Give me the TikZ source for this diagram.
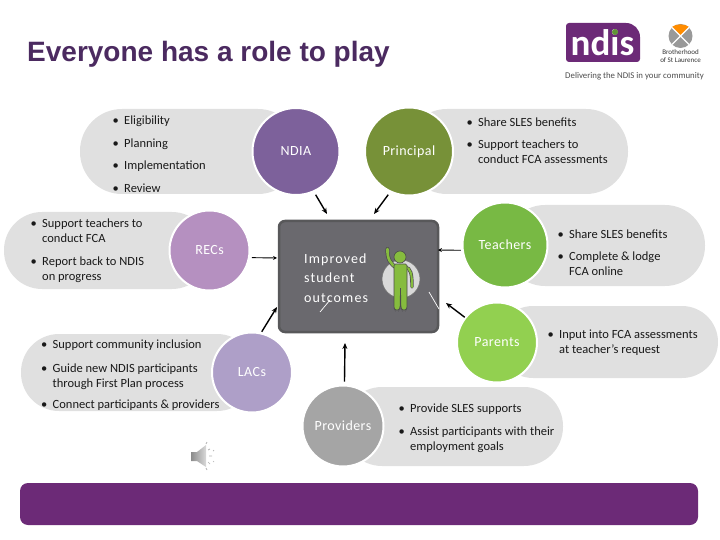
\documentclass[tikz,border=0pt]{standalone}
\usepackage{fontspec}
\setmainfont{Carlito}
\newfontfamily\ttlfont{Liberation Sans}
\newfontfamily\spacedfont[LetterSpace=8]{Carlito}
\newfontfamily\rolefont[LetterSpace=3]{Carlito}
\usetikzlibrary{arrows.meta}
\definecolor{pillgrey}{HTML}{E0E0E0}
\definecolor{cNDIA}{HTML}{7D619B}
\definecolor{cPrin}{HTML}{779138}
\definecolor{cTeach}{HTML}{78B944}
\definecolor{cPar}{HTML}{92D050}
\definecolor{cProv}{HTML}{A5A5A5}
\definecolor{cLAC}{HTML}{AE9FC8}
\definecolor{cREC}{HTML}{B590C0}
\definecolor{boxfill}{HTML}{6A696E}
\definecolor{boxline}{HTML}{58585A}
\definecolor{ndispurple}{HTML}{6C2A77}
\definecolor{titlecol}{HTML}{4B2A60}
\definecolor{fig}{HTML}{86BC3E}
\newcommand{\itemtxt}[1]{\begin{tabular}[t]{@{}p{11.5pt}@{}l@{}}•&#1\end{tabular}}
\tikzset{
  pill/.style={fill=pillgrey,draw=none},
  role/.style={circle,draw=white,line width=2pt,text=white,inner sep=0pt,font=\rolefont\fontsize{14}{16}\selectfont},
  itm/.style={anchor=base west,inner sep=0pt,font=\fontsize{12.5}{15}\selectfont,text=black!90},
  conn/.style={line width=1.4pt,-{Stealth[length=6pt,width=5pt]}},
  thinconn/.style={line width=.9pt,-{Stealth[length=4pt,width=4pt]}},
  stray/.style={draw=white,line width=.7pt},
}
\begin{document}
\begin{tikzpicture}[x=1pt,y=-1pt]
\useasboundingbox (0,0) rectangle (720,540);
% title
\node[anchor=base west,inner sep=0pt,text=titlecol,font=\ttlfont\bfseries\fontsize{28}{32}\selectfont] (title) at (27,62) {Everyone has a role to play};
% logos
\fill[ndispurple,rounded corners=3pt] (566,62) -- (566,23) [rounded corners=14pt] -- (640,23) [rounded corners=3pt] -- (640,62) -- cycle;
\node[text=white,inner sep=0pt,font=\bfseries\fontsize{37}{37}\selectfont] (ndislogo) at (602.5,42.5) {ndis};
\fill[cTeach!80!black] (615,32) circle[radius=3];
\fill[black!40] (680.5,36) circle[radius=12];
\fill[orange!90!yellow] (680.5,36) -- (672,27) .. controls (676,23.5) and (685,23.5) .. (689,27) -- cycle;
\draw[white,line width=1.2pt] (672,27.5) -- (689,44.5) (689,27.5) -- (672,44.5);
\node[align=center,inner sep=0pt,text=black!80,font=\fontsize{7}{7.5}\selectfont] (bsl) at (680.5,56) {Brotherhood\\of St Laurence};
\node[anchor=base west,inner sep=0pt,text=black!70,font=\fontsize{8.8}{10}\selectfont] (tagline) at (565,78.5) {Delivering the NDIS in your community};
% pills
\path[pill,rounded corners=42pt] (80,109) rectangle (300,194);
\path[pill,rounded corners=42pt] (405,109) rectangle (628,194);
\path[pill,rounded corners=40pt] (505,205) rectangle (705,286);
\path[pill,rounded corners=36pt] (497,306) rectangle (718,378);
\path[pill,rounded corners=39pt] (343,387) rectangle (563,466);
\path[pill,rounded corners=38pt] (21,334) rectangle (255,411);
\path[pill,rounded corners=38pt] (4,212) rectangle (210,289);
% role circles
\node[role,fill=cNDIA,minimum size=87pt] (ndia) at (296,151.5) {NDIA};
\node[role,fill=cPrin,minimum size=88pt] (principal) at (409,151.5) {Principal};
\node[role,fill=cTeach,minimum size=85pt] (teachers) at (505,245) {Teachers};
\node[role,fill=cPar,minimum size=80pt] (parents) at (497,342.5) {Parents};
\node[role,fill=cProv,minimum size=81pt] (providers) at (343,426) {Providers};
\node[role,fill=cLAC,minimum size=80pt] (lacs) at (252,372.5) {LACs};
\node[role,fill=cREC,minimum size=80pt] (recs) at (209.5,250.5) {RECs};
% lists
\node[itm] (n1) at (112.5,125) {\itemtxt{Eligibility}};
\node[itm] (n2) at (112.5,148) {\itemtxt{Planning}};
\node[itm] (n3) at (112.5,170) {\itemtxt{Implementation}};
\node[itm] (n4) at (112.5,192.5) {\itemtxt{Review}};
\node[itm] (p1) at (466.5,127) {\itemtxt{Share SLES benefits}};
\node[itm] (p2) at (466.5,149) {\itemtxt{Support teachers to\\&conduct FCA assessments}};
\node[itm] (t1) at (557.5,238) {\itemtxt{Share SLES benefits}};
\node[itm] (t2) at (557.5,260) {\itemtxt{Complete \& lodge\\&FCA online}};
\node[itm] (a1) at (547.5,338) {\itemtxt{Input into FCA assessments\\&at teacher’s request}};
\node[itm] (v1) at (398.5,412) {\itemtxt{Provide SLES supports}};
\node[itm] (v2) at (398.5,435) {\itemtxt{Assist participants with their\\&employment goals}};
\node[itm] (r1) at (30.5,228) {\itemtxt{Support teachers to\\&conduct FCA}};
\node[itm] (r2) at (30.5,265) {\itemtxt{Report back to NDIS\\&on progress}};
\node[itm] (l1) at (41,348) {\itemtxt{Support community inclusion}};
\node[itm] (l2) at (41,372) {\itemtxt{Guide new NDIS participants\\&through First Plan process}};
\node[itm] (l3) at (41,408) {\itemtxt{Connect participants \& providers}};
% centre box
\node[draw=boxline,fill=boxfill,line width=2.5pt,rounded corners=6pt,minimum width=159pt,minimum height=111pt,inner sep=0pt] (box) at (358.5,276.5) {};
\node[anchor=base west,inner sep=0pt,text=white,font=\spacedfont\fontsize{14}{19.5}\selectfont] (outcomes) at (304,263) {\begin{tabular}[t]{@{}l@{}}Improved\\student\\outcomes\end{tabular}};
% person
\fill[black!15,draw=black!55,line width=.6pt] (401,279) circle[radius=19];
\draw[black!70,line width=4pt,line cap=round,line join=round] (387.5,249) .. controls (387,258) and (390,264) .. (397,268);
\draw[fig,line width=2.6pt,line cap=round,line join=round] (387.5,249) .. controls (387,258) and (390,264) .. (397,268);
\draw[black!70,line width=3.4pt,line cap=round] (405,267) .. controls (411,268) and (412,274) .. (412,287);
\draw[fig,line width=2pt,line cap=round] (405,267) .. controls (411,268) and (412,274) .. (412,287);
\fill[fig,draw=black!70,line width=.6pt,rounded corners=1.5pt] (394,264) -- (407,264) -- (407,308) -- (406,310) -- (402,310) -- (401,308) -- (400.5,287) -- (400,308) -- (399,310) -- (395,310) -- (394,308) -- cycle;
\fill[fig,draw=black!70,line width=.6pt] (400,257) circle[radius=6];
% connectors
\coordinate (ndiaEnd) at (327,214);
\coordinate (prinEnd) at (374,214);
\coordinate (teachEnd) at (438,250);
\coordinate (parEnd) at (446,303);
\coordinate (provEnd) at (345,343);
\coordinate (lacEnd) at (277,307);
\coordinate (recEnd) at (277,258);
\draw[conn,shorten <=3pt] (ndia.-66) -- (ndiaEnd);
\draw[conn,shorten <=3pt] (principal.-115) -- (prinEnd);
\draw[thinconn,shorten <=1pt] (teachers.187) -- (teachEnd);
\draw[conn,shorten <=0pt] (parents.142) -- (parEnd);
\draw[conn,shorten <=3pt] (providers.88) -- (provEnd);
\draw[conn,shorten <=1pt] (lacs.77) -- (lacEnd);
\draw[thinconn,shorten <=2pt] (recs.-10) -- (recEnd);
% stray marks on box
\draw[stray] (320,312) -- (330,300);
\draw[stray] (429,292) -- (439,309);
% bottom bar
\fill[ndispurple,rounded corners=8pt] (20,483) rectangle (698,525);
% speaker
\shade[left color=black!45,right color=black!15] (191,452) -- (197,452) -- (206,445) -- (206,467) -- (197,461) -- (191,461) -- cycle;
\draw[black!30,line width=.7pt] (208,450) -- (210,449) (209,456) -- (212,456) (208,462) -- (210,464) (206,444) -- (207,442) (206,468) -- (207,470) (213,451) -- (214,450) (213,461) -- (214,462);
\end{tikzpicture}
\end{document}
